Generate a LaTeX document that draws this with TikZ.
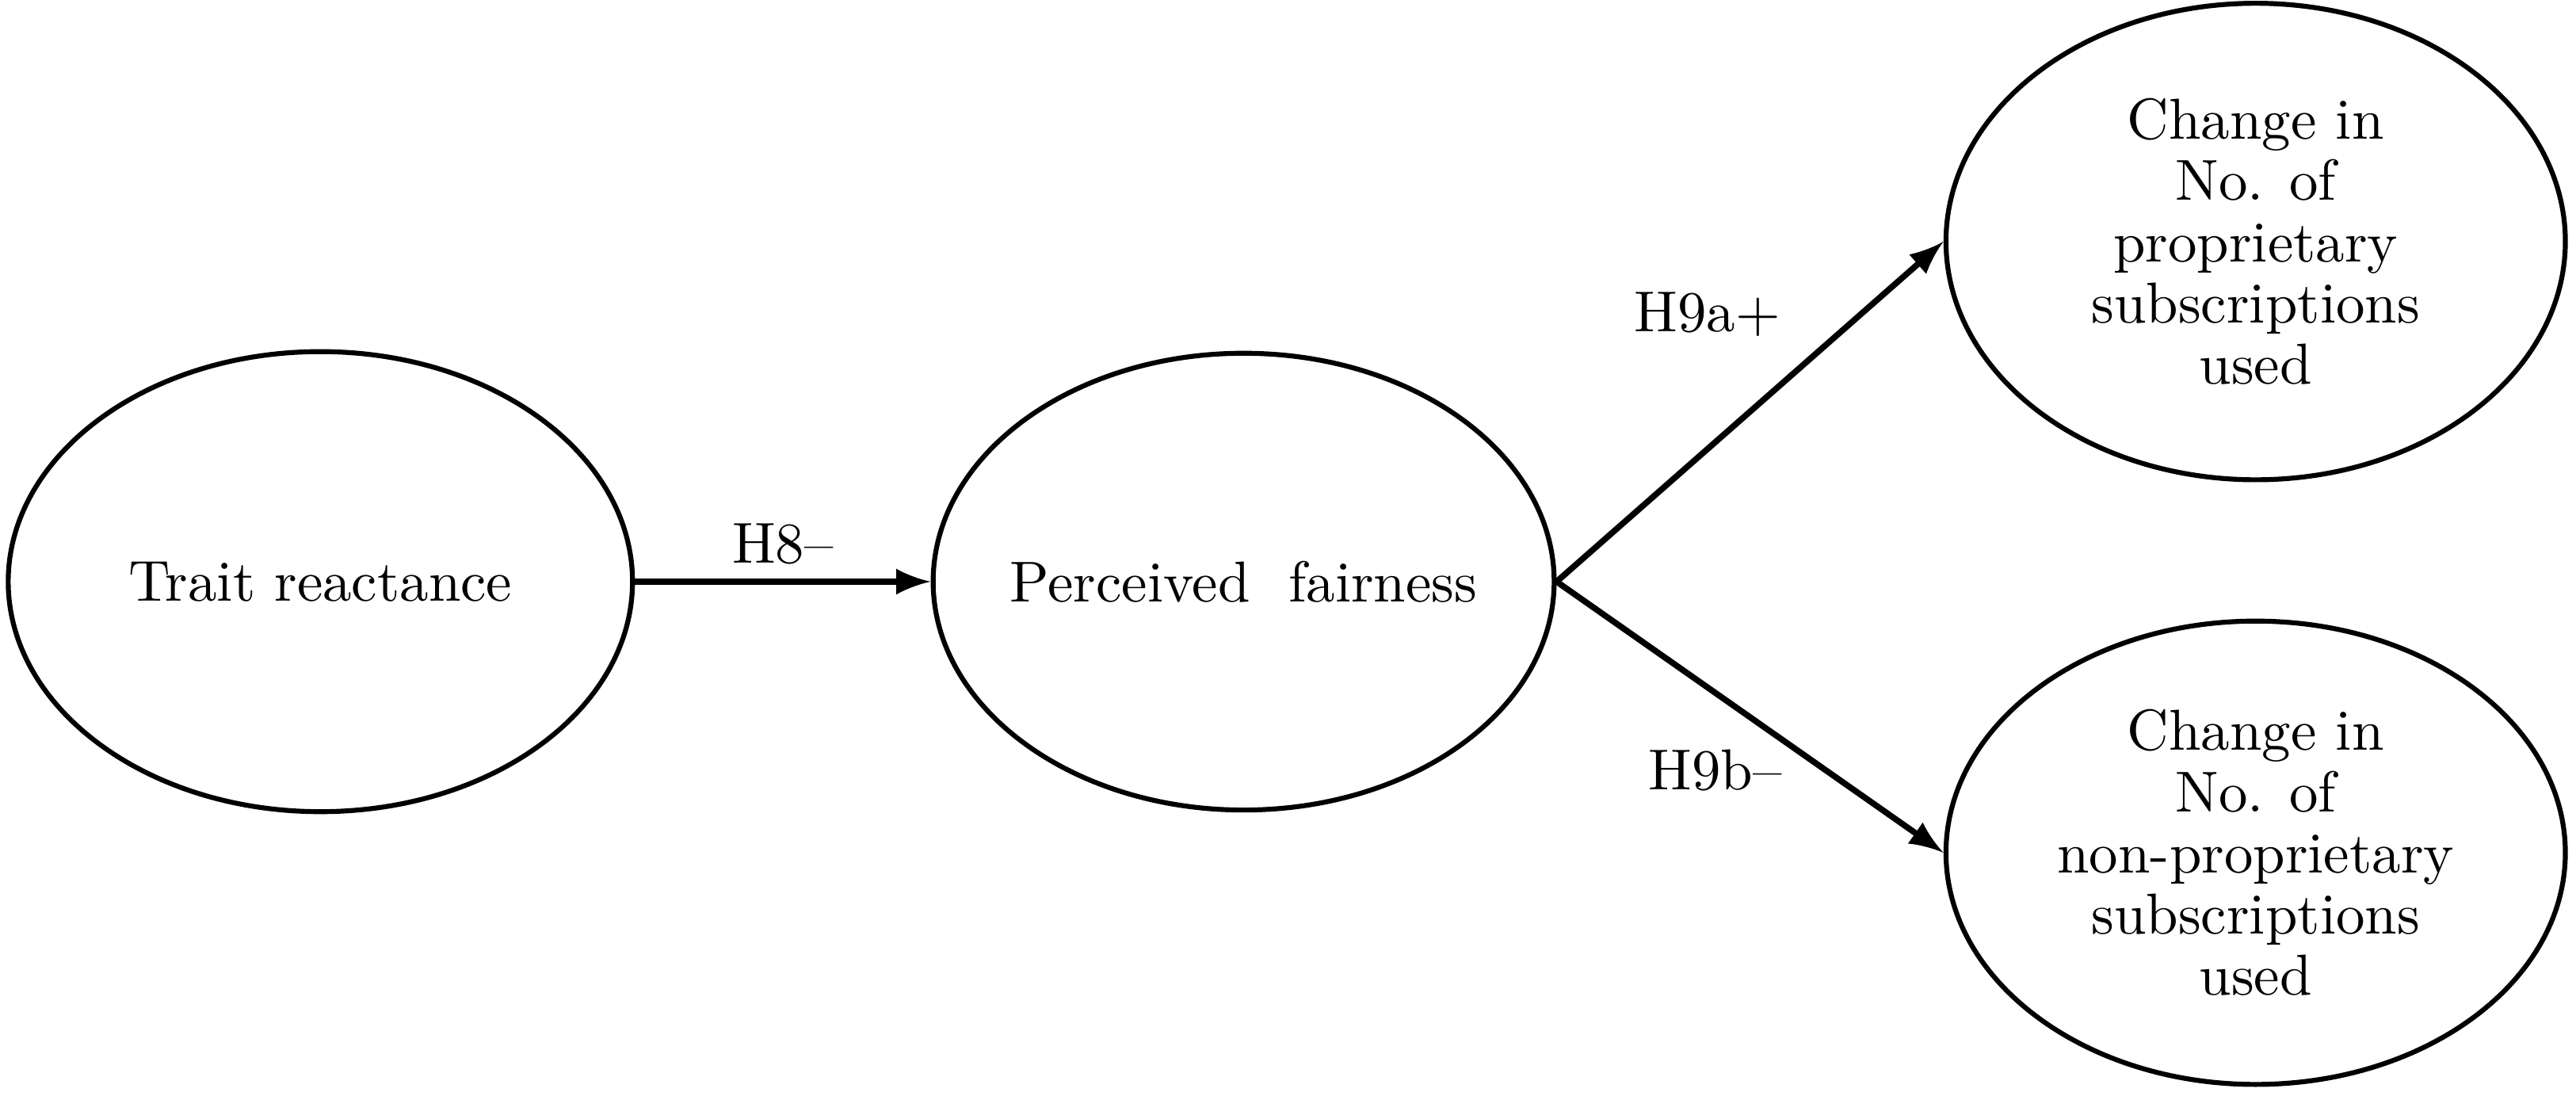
\documentclass[tikz,border=0pt]{standalone}
\usepackage{tikz}
\usetikzlibrary{arrows,shapes.geometric}

\begin{document}
\begin{tikzpicture}[
    construct/.style={draw, ellipse, line width=0.85pt, inner sep=0pt, align=center,
      font=\fontsize{10}{10.6}\selectfont},
    path/.style={->, >=latex, line width=1.05pt},
    hyp/.style={font=\fontsize{10}{12}\selectfont, inner sep=0pt}
  ]
    \useasboundingbox (0,0) rectangle (15.68,6.67);
    \node[construct, minimum width=3.80cm, minimum height=2.80cm] (trait) at (1.95,3.13)
      {\makebox[2cm]{Trait reactance}};
    \node[construct, minimum width=3.78cm, minimum height=2.78cm] (fair) at (7.57,3.13)
      {\makebox[2cm]{Perceived\ \ fairness}};
    \node[construct, minimum width=3.77cm, minimum height=2.90cm] (prop) at (13.73,5.20)
      {Change in\\No. of\\proprietary\\subscriptions\\used};
    \node[construct, minimum width=3.77cm, minimum height=2.82cm] (nonprop) at (13.73,1.48)
      {Change in\\No. of\\non-proprietary\\subscriptions\\used};
    \draw[path] (trait.east) -- node[hyp, yshift=0.23cm] (h8) {H8--} (fair.west);
    \draw[path] (fair.east) -- node[hyp, pos=0.39, yshift=0.82cm] (h9a) {H9a+} (prop.west);
    \draw[path] (fair.east) -- node[hyp, pos=0.41, yshift=-0.47cm] (h9b) {H9b--} (nonprop.west);
  \end{tikzpicture}
\end{document}
